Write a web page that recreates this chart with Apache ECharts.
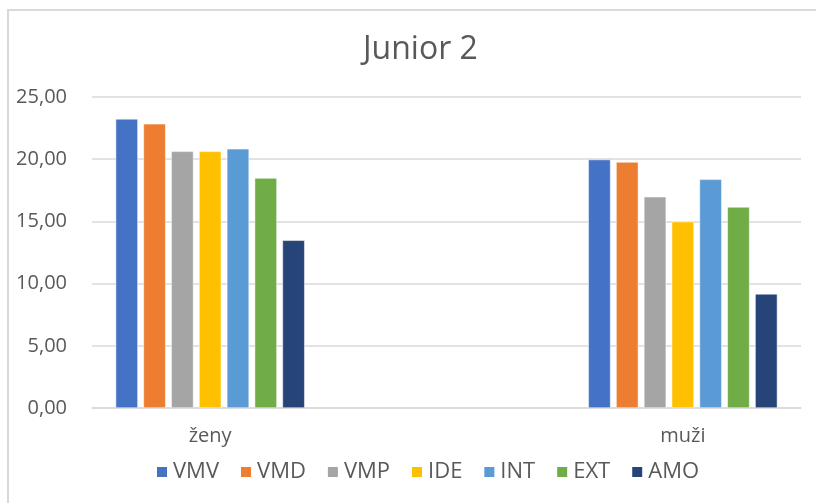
<!DOCTYPE html>
<html>
<head>
<meta charset="utf-8">
<script src="https://cdn.jsdelivr.net/npm/echarts@6/dist/echarts.min.js"></script>
<style>
  html, body { margin: 0; padding: 0; background: #fff; }
  #chart { position: absolute; left: 0; top: 0; width: 816px; height: 503px; }
  #frame { position: absolute; left: 7px; top: 9px; width: 900px; height: 600px;
           border-left: 2px solid #d9d9d9; border-top: 2px solid #d9d9d9; pointer-events: none; }
</style>
</head>
<body>
<div id="chart"></div>
<div id="frame"></div>
<script>
  // kategorie (prostredni je prazdna mezera jako v Excelu)
  var categories = ['ženy', '', 'muži'];
  var seriesNames = ['VMV', 'VMD', 'VMP', 'IDE', 'INT', 'EXT', 'AMO'];
  var colors = ['#4472c4', '#ed7d31', '#a5a5a5', '#ffc000', '#5b9bd5', '#70ad47', '#264478'];
  var VMV = [23.24, null, 19.97];
  var VMD = [22.84, null, 19.77];
  var VMP = [20.63, null, 16.98];
  var IDE = [20.63, null, 14.98];
  var INT = [20.83, null, 18.38];
  var EXT = [18.48, null, 16.16];
  var AMO = [13.48, null, 9.17];
  var values = [VMV, VMD, VMP, IDE, INT, EXT, AMO];
  var yTicks = { min: 0, max: 25, interval: 5 };

  var font = 'Open Sans';
  var chart = echarts.init(document.getElementById('chart'));

  chart.setOption({
    animation: false,
    color: colors,
    title: {
      text: 'Junior 2',
      left: 358,
      top: 29,
      textStyle: { fontFamily: font, fontSize: 32, fontWeight: 'normal', color: '#595959' }
    },
    legend: {
      data: seriesNames,
      left: 150,
      top: 456,
      itemWidth: 12,
      itemHeight: 12,
      itemGap: 20,
      icon: 'rect',
      textStyle: { fontFamily: font, fontSize: 22, color: '#595959' }
    },
    grid: { left: 92, right: 15, top: 97, bottom: 95 },
    xAxis: {
      type: 'category',
      data: categories,
      axisTick: { show: false },
      axisLine: { lineStyle: { color: '#d9d9d9', width: 1.5 } },
      axisLabel: {
        margin: 18,
        fontFamily: font,
        fontSize: 20,
        color: '#595959'
      }
    },
    yAxis: {
      type: 'value',
      min: yTicks.min,
      max: yTicks.max,
      interval: yTicks.interval,
      axisLine: { show: false },
      axisTick: { show: false },
      splitLine: { lineStyle: { color: '#d9d9d9', width: 1.5 } },
      axisLabel: {
        margin: 25,
        fontFamily: font,
        fontSize: 20,
        color: '#595959',
        formatter: function (v) { return v.toFixed(2).replace('.', ','); }
      }
    },
    series: seriesNames.map(function (name, i) {
      return {
        name: name,
        type: 'bar',
        data: values[i],
        barGap: '25%',
        barCategoryGap: '20%',
        itemStyle: { borderColor: '#ffffff', borderWidth: 0.5 }
      };
    })
  });
</script>
</body>
</html>
